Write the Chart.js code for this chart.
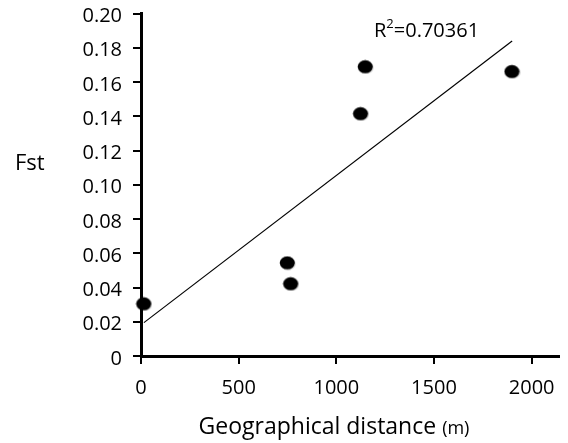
<!DOCTYPE html>
<html>
<head>
<meta charset="utf-8">
<script src="https://cdn.jsdelivr.net/npm/chart.js@4/dist/chart.umd.min.js"></script>
<style>
  html, body { margin: 0; padding: 0; background: #fff; }
  #wrap { width: 568px; height: 443px; }
</style>
</head>
<body>
<div id="wrap"><canvas id="chart" width="568" height="443"></canvas></div>
<script>
// data
var distance = [15, 750, 767, 1125, 1149, 1900];
var fst = [0.0304, 0.0543, 0.0421, 0.1414, 0.1688, 0.166];
// trend line ends as drawn
var trendX = [15, 1900];
var trendY = [0.0195, 0.184];
var xTicks = [0, 500, 1000, 1500, 2000];
var yTicks = [0, 0.02, 0.04, 0.06, 0.08, 0.10, 0.12, 0.14, 0.16, 0.18, 0.20];
var rSquared = "0.70361";

var fontFam = "'Open Sans', sans-serif";

// black oval marker like the original
var dot = document.createElement("canvas");
dot.width = 17; dot.height = 15;
var dctx = dot.getContext("2d");
dctx.fillStyle = "rgba(0,0,0,0.15)";
dctx.beginPath();
dctx.ellipse(9, 8.2, 7.8, 6.6, 0, 0, Math.PI * 2);
dctx.fill();
dctx.fillStyle = "#000";
dctx.beginPath();
dctx.ellipse(8.3, 7.3, 7.5, 6.5, 0, 0, Math.PI * 2);
dctx.fill();

var labelsPlugin = {
  id: "labels",
  afterDraw: function(chart) {
    var ctx = chart.ctx;
    ctx.save();
    ctx.fillStyle = "#000";
    ctx.textBaseline = "alphabetic";
    // y title, horizontal
    ctx.font = "22px " + fontFam;
    ctx.textAlign = "left";
    ctx.fillText("Fst", 15, 170);
    // x title
    var main = "Geographical distance ";
    ctx.font = "23px " + fontFam;
    var w1 = ctx.measureText(main).width;
    ctx.font = "18px " + fontFam;
    var w2 = ctx.measureText("(m)").width;
    var x0 = 334 - (w1 + w2) / 2;
    ctx.font = "23px " + fontFam;
    ctx.fillText(main, x0, 434);
    ctx.font = "18px " + fontFam;
    ctx.fillText("(m)", x0 + w1, 434);
    // R squared
    ctx.font = "20px " + fontFam;
    ctx.fillText("R", 374, 37);
    var rw = ctx.measureText("R").width;
    ctx.font = "13px " + fontFam;
    ctx.fillText("2", 374 + rw, 28);
    var sw = ctx.measureText("2").width;
    ctx.font = "20px " + fontFam;
    ctx.fillText("=" + rSquared, 374 + rw + sw, 37);
    ctx.restore();
  }
};

var points = distance.map(function(d, i) { return { x: d, y: fst[i] }; });
var trend = trendX.map(function(d, i) { return { x: d, y: trendY[i] }; });

new Chart(document.getElementById("chart"), {
  type: "scatter",
  data: {
    datasets: [
      {
        type: "line",
        data: trend,
        borderColor: "#000",
        borderWidth: 1.2,
        pointRadius: 0,
        fill: false
      },
      {
        data: points,
        pointStyle: dot,
        pointRadius: 8,
        pointHoverRadius: 8,
        clip: false
      }
    ]
  },
  options: {
    responsive: false,
    animation: false,
    events: [],
    layout: { padding: { left: 0, right: 8, top: 13.5, bottom: 0 } },
    plugins: { legend: { display: false }, tooltip: { enabled: false } },
    scales: {
      x: {
        type: "linear",
        min: 0,
        max: 2140,
        afterBuildTicks: function(scale) {
          scale.ticks = xTicks.map(function(v) { return { value: v }; });
        },
        afterFit: function(scale) {
          scale.height = 87;
          scale.paddingLeft = 0;
          scale.paddingRight = 0;
        },
        border: { display: true, color: "#000", width: 3 },
        grid: { drawOnChartArea: false, drawTicks: true, tickLength: 8, color: "#000", lineWidth: 2 },
        ticks: {
          color: "#000",
          font: { family: fontFam, size: 20 },
          padding: 12,
          maxRotation: 0,
          callback: function(v) { return String(v); }
        }
      },
      y: {
        min: 0,
        max: 0.2,
        afterBuildTicks: function(scale) {
          scale.ticks = yTicks.map(function(v) { return { value: v }; });
        },
        afterFit: function(scale) {
          scale.width = 141;
          scale.paddingTop = 0;
          scale.paddingBottom = 0;
        },
        border: { display: true, color: "#000", width: 3 },
        grid: { drawOnChartArea: false, drawTicks: true, tickLength: 8, color: "#000", lineWidth: 2 },
        ticks: {
          color: "#000",
          font: { family: fontFam, size: 20 },
          padding: 11,
          labelOffset: 3,
          callback: function(v) { return v === 0 ? "0" : v.toFixed(2); }
        }
      }
    }
  },
  plugins: [labelsPlugin]
});
</script>
</body>
</html>
